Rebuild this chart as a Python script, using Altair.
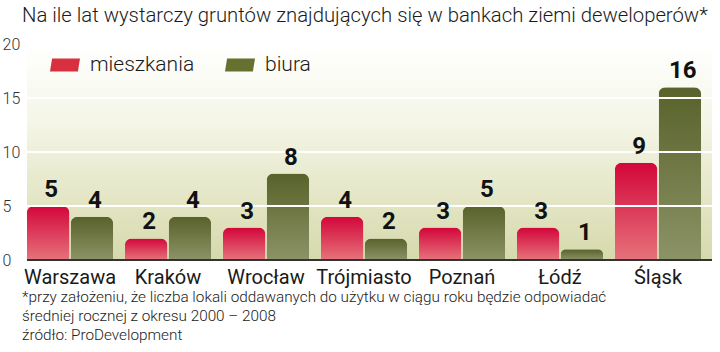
import altair as alt
import pandas as pd

cities = ["Warszawa", "Kraków", "Wrocław", "Trójmiasto", "Poznań", "Łódź", "Śląsk"]
series = ["mieszkania", "biura"]
mieszkania = [5, 2, 3, 4, 3, 3, 9]
biura = [4, 4, 8, 2, 5, 1, 16]
y_ticks = [0, 5, 10, 15, 20]
grid_values = [5, 10, 15]
title_text = "Na ile lat wystarczy gruntów znajdujących się w bankach ziemi deweloperów*"
footnote_lines = [
    "*przy założeniu, że liczba lokali oddawanych do użytku w ciągu roku będzie odpowiadać",
    "średniej rocznej z okresu 2000 – 2008",
    "źródło: ProDevelopment",
]

rows = []
for c, m, b in zip(cities, mieszkania, biura):
    rows.append({"city": c, "series": "mieszkania", "value": m})
    rows.append({"city": c, "series": "biura", "value": b})
df = pd.DataFrame(rows)

RED_SOLID = "#d8303f"
GREEN_SOLID = "#66702f"

red_grad = alt.Gradient(
    gradient="linear", x1=0, x2=0, y1=0, y2=1,
    stops=[alt.GradientStop(color="#d3063a", offset=0),
           alt.GradientStop(color="#e6737b", offset=1)],
)
green_grad = alt.Gradient(
    gradient="linear", x1=0, x2=0, y1=0, y2=1,
    stops=[alt.GradientStop(color="#58622a", offset=0),
           alt.GradientStop(color="#8c9367", offset=1)],
)
bg_grad = alt.Gradient(
    gradient="linear", x1=0, x2=0, y1=0, y2=1,
    stops=[alt.GradientStop(color="#ffffff", offset=0),
           alt.GradientStop(color="#f5f6e8", offset=0.35),
           alt.GradientStop(color="#d6d9ab", offset=1)],
)

x_enc = alt.X(
    "city:N", sort=cities,
    scale=alt.Scale(paddingInner=0.12, paddingOuter=0.05),
    axis=alt.Axis(title=None, domain=False, ticks=False, labelAngle=0,
                  labelFontSize=20, labelFont="Roboto", labelColor="#1a1a1a",
                  labelPadding=7, grid=False),
)
xo_enc = alt.XOffset("series:N", sort=series,
                     scale=alt.Scale(domain=series, paddingInner=0.03))
y_scale = alt.Scale(domain=[0, 20], nice=False)
y_enc = alt.Y(
    "value:Q",
    scale=y_scale,
    axis=alt.Axis(title=None, values=y_ticks, domain=False, ticks=False,
                  labelAlign="left", labelPadding=20, labelFontSize=16,
                  labelFont="Roboto", labelFontWeight=300, labelColor="#333333",
                  grid=False),
)

base = alt.Chart(df)

background = alt.Chart(pd.DataFrame({"a": [0]})).mark_rect(color=bg_grad).encode(
    x=alt.value(5), x2=alt.value(690), y=alt.value(0), y2=alt.value(216)
)

bars_red = base.transform_filter(alt.datum.series == "mieszkania").mark_bar(
    color=red_grad, cornerRadiusTopLeft=7, cornerRadiusTopRight=7
).encode(x=x_enc, xOffset=xo_enc, y=y_enc)

bars_green = base.transform_filter(alt.datum.series == "biura").mark_bar(
    color=green_grad, cornerRadiusTopLeft=7, cornerRadiusTopRight=7
).encode(x=x_enc, xOffset=xo_enc, y=y_enc)

gridlines = alt.Chart(pd.DataFrame({"g": grid_values})).mark_rule(
    color="white", strokeWidth=2
).encode(y=alt.Y("g:Q", scale=y_scale), x=alt.value(5), x2=alt.value(690))

labels = base.mark_text(
    baseline="bottom", dy=-4, dx=3, font="Roboto", fontWeight="bold",
    fontSize=24, color="#111111"
).encode(x=x_enc, xOffset=xo_enc, y=y_enc, text="value:Q")

baseline = alt.Chart(pd.DataFrame({"v": [0]})).mark_rule(
    color="#333333", strokeWidth=2
).encode(y=alt.Y("v:Q", scale=y_scale), x=alt.value(5), x2=alt.value(690))

legend_layer = base.mark_square(opacity=0).encode(
    x=x_enc, xOffset=xo_enc, y=y_enc,
    color=alt.Color(
        "series:N",
        scale=alt.Scale(domain=series, range=[RED_SOLID, GREEN_SOLID]),
        legend=alt.Legend(
            title=None, orient="none", legendX=28, legendY=6,
            direction="horizontal", columnPadding=30,
            symbolType="M-1,0.43 L0.86,0.43 L1,-0.43 L-0.86,-0.43 Z",
            symbolSize=900, symbolOpacity=1, symbolStrokeWidth=0,
            labelFontSize=21, labelFont="Roboto", labelFontWeight=300,
            labelColor="#1a1a1a", labelOffset=10,
        ),
    ),
)

footnote = alt.Chart(pd.DataFrame({"a": [0]})).mark_text(
    text=footnote_lines, align="left", baseline="top", lineHeight=19,
    fontSize=15.3, font="Roboto", fontWeight=300, color="#222222"
).encode(x=alt.value(0), y=alt.value(246))

chart = alt.layer(
    background, bars_red, bars_green, gridlines, labels, baseline,
    legend_layer, footnote
).properties(
    width=684, height=216, autosize="none",
    padding={"left": 22, "top": 44, "right": 14, "bottom": 92},
    title=alt.TitleParams(title_text, anchor="start", frame="group", offset=10,
                          fontSize=20.3, font="Roboto", fontWeight=300,
                          color="#1a1a1a"),
).configure_view(stroke=None)

chart.save("out.html", embed_options={"renderer": "svg", "actions": False})
